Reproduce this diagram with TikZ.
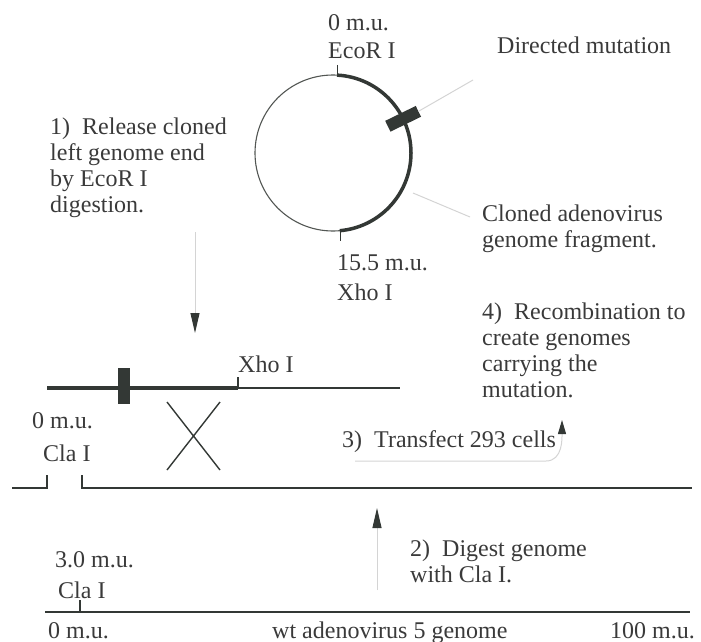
\documentclass[tikz,border=0pt]{standalone}
\usepackage{fontspec}
\setmainfont{Liberation Serif}
\usetikzlibrary{arrows.meta,positioning,calc}
\definecolor{ink}{HTML}{3A3A3A}
\definecolor{dna}{HTML}{333835}
\definecolor{pale}{HTML}{D4D4D4}

\begin{document}
\begin{tikzpicture}[
  x=1pt, y=-1pt,
  font=\fontsize{24}{26}\selectfont,
  lbl/.style={anchor=base west, inner sep=0pt, align=left, text=ink},
  dnathin/.style={draw=dna, line width=1.4pt},
  dnathick/.style={draw=dna, line width=4pt},
  pointer/.style={draw=pale, line width=1pt},
  arrow/.style={draw=pale, line width=1pt, -{Triangle[length=20pt, width=9pt, color=dna]}},
  mutbox/.style={fill=dna, minimum width=34pt, minimum height=12pt, inner sep=0pt}
]
\useasboundingbox (0,0) rectangle (701,642);

\coordinate (ori) at (333,153);

\draw[draw=dna!85, line width=1.1pt] (ori) circle[radius=78];
\draw[draw=dna, line width=3.5pt] (ori) ++(-87:78) arc[start angle=-87, end angle=85, radius=78];
\draw[dnathin, line width=1pt] (337,65) -- (337,76);
\draw[dnathin, line width=1pt] (340,231) -- (340,241);
\node[mutbox, rotate=26] (mut) at ($(ori)+(-26:78)$) {};

\node[lbl] (ecor) at (328,59) {0 m.u.\\[2pt]EcoR I};
\node[lbl] (xhosite) at (337,300) {15.5 m.u.\\[4pt]Xho I};
\node[lbl] (mutlabel) at (497,53) {Directed mutation};
\node[lbl] (fraglabel) at (482,247) {Cloned adenovirus\\genome fragment.};

\coordinate (mutpt) at (473,80);
\coordinate (fragon) at (413,193);
\coordinate (fragpt) at (470,217);
\draw[pointer] (mut.east) -- (mutpt);
\draw[pointer] (fragon) -- (fragpt);

\node[lbl] (step1) at (50,212) {1)~~Release cloned\\left genome end\\by EcoR I\\digestion.};
\node[lbl] (step4) at (482,397) {4)~~Recombination to\\create genomes\\carrying the\\mutation.};
\node[lbl] (step3) at (342,447) {3)~~Transfect 293 cells};
\node[lbl] (step2) at (410,582) {2)~~Digest genome\\with Cla I.};

\node[lbl] (xhomid) at (238,372) {Xho I};
\node[lbl] (clamid) at (32,461) {0 m.u.\\[7pt]\hspace{11pt}Cla I};
\node[lbl] (clawt) at (55,598) {3.0 m.u.\\[5pt]\hspace{3pt}Cla I};
\node[lbl] (zero) at (48,638) {0 m.u.};
\node[lbl] (wt) at (272,638) {wt adenovirus 5 genome};
\node[lbl] (hundred) at (610,638) {100 m.u.};

\draw[dnathick] (47,388) -- (238,388);
\draw[dnathin] (238,388) -- (400,388);
\draw[dnathin] (238,377) -- (238,388);
\fill[dna] (118,368) rectangle (130,404);
\draw[dnathin] (167,402) -- (220,470) (220,402) -- (167,470);
\draw[dnathin] (12,488) -- (47,488) -- (47,475);
\draw[dnathin] (82,475) -- (82,488) -- (692,488);

\draw[dnathin] (45,612) -- (690,612);
\draw[dnathin] (80,600) -- (80,612);

\coordinate (a1s) at (195,232);
\coordinate (a1e) at (195,333);
\coordinate (a2s) at (377,590);
\coordinate (a2e) at (377,508);
\coordinate (a3s) at (355,461);
\coordinate (a3c) at (546,461);
\coordinate (a3e) at (562,420);
\draw[arrow] (a1s) -- (a1e);
\draw[arrow] (a2s) -- (a2e);
\draw[arrow, -{Triangle[length=14pt, width=8pt, color=dna]}] (a3s) -- (a3c) to[out=0, in=-90] (a3e);

\end{tikzpicture}
\end{document}
